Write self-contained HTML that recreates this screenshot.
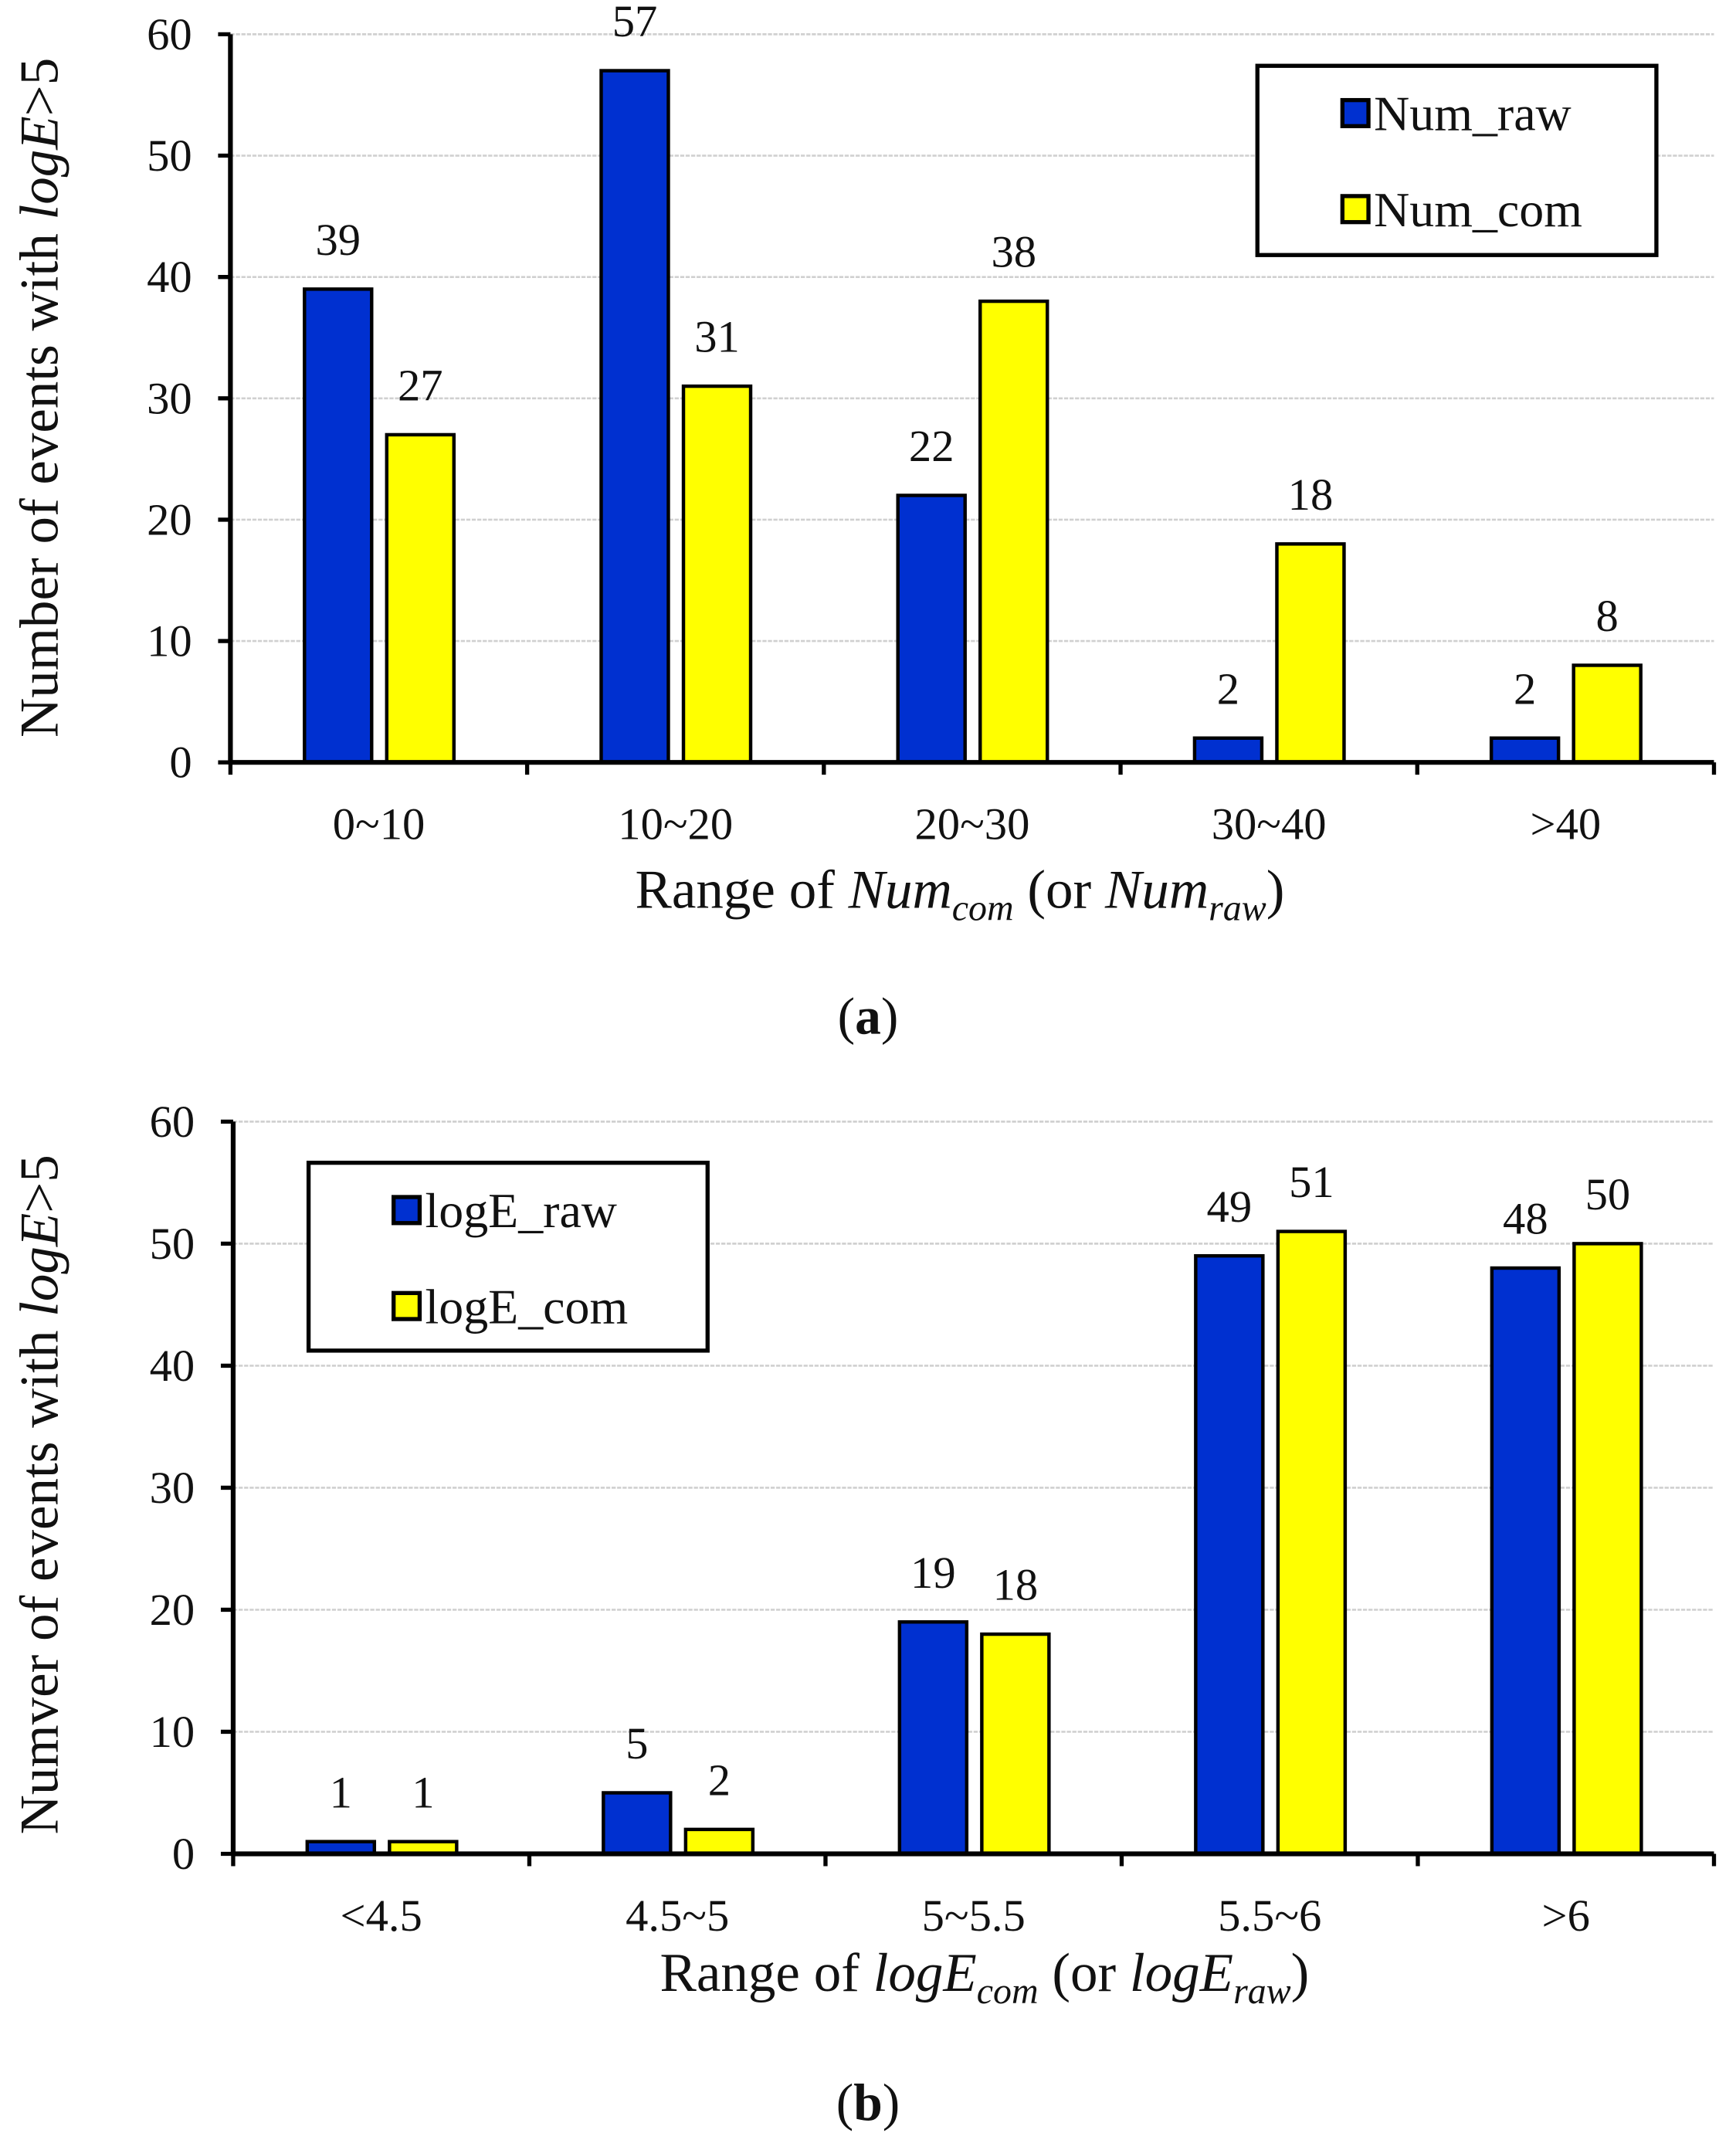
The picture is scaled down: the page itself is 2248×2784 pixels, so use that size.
<!DOCTYPE html>
<html><head><meta charset="utf-8"><style>
html,body{margin:0;padding:0;background:#fff}
svg{display:block}
text{font-family:"Liberation Serif",serif;fill:#111}
</style></head><body>
<svg id="fig" width="2248" height="2784" viewBox="0 0 1266 1568" xmlns="http://www.w3.org/2000/svg">
<rect width="1266" height="1568" fill="#fff"/>
<g id="chartA"></g>
<g id="chartB"></g>
<text x="633" y="754" text-anchor="middle" font-size="38">(<tspan font-weight="bold">a</tspan>)</text>
<text x="633" y="1546" text-anchor="middle" font-size="38">(<tspan font-weight="bold">b</tspan>)</text>
</svg>
<script>
const catsA = ["0~10","10~20","20~30","30~40",">40"];
const rawA = [39,57,22,2,2];
const comA = [27,31,38,18,8];
const catsB = ["<4.5","4.5~5","5~5.5","5.5~6",">6"];
const rawB = [1,5,19,49,48];
const comB = [1,2,18,51,50];
const yTicks = [0,10,20,30,40,50,60];

const NS="http://www.w3.org/2000/svg";
function mk(parent,tag,attrs,txt){
  const e=document.createElementNS(NS,tag);
  for(const k in attrs) e.setAttribute(k,attrs[k]);
  if(txt!==undefined) e.textContent=txt;
  parent.appendChild(e); return e;
}
function drawChart(g, cfg){
  const {x0,x1,y0,y60,cats,raw,com} = cfg;
  const ys = v => y0 - (v/60)*(y0-y60);
  const cw = (x1-x0)/cats.length;
  const xc = i => x0 + i*cw;
  yTicks.forEach(t=>{
    if(t>0){
      const l=mk(g,'line',{x1:x0,x2:x1,y1:ys(t),y2:ys(t),stroke:'#d0d0d0','stroke-width':1.5,'stroke-dasharray':'3 1'});
      
      
    }
    const tk=mk(g,'line',{x1:x0-9,x2:x0,y1:ys(t),y2:ys(t),stroke:'#000','stroke-width':3});
    
    
    const tl=mk(g,'text',{x:x0-28,y:ys(t)+11,'text-anchor':'end','font-size':33},String(t));
    
    
  });
  cats.forEach((c,i)=>{
    const bx=xc(i)+54, yx=xc(i)+114, bw=49;
    const b=mk(g,'rect',{x:bx,y:ys(raw[i]),width:bw,height:ys(0)-ys(raw[i]),fill:'#0030d0',stroke:'#000','stroke-width':2.5});
    
    
    const y=mk(g,'rect',{x:yx,y:ys(com[i]),width:bw,height:ys(0)-ys(com[i]),fill:'#ffff00',stroke:'#000','stroke-width':2.5});
    
    
    const l1=mk(g,'text',{x:bx+bw/2,y:ys(raw[i])-25,'text-anchor':'middle','font-size':33},String(raw[i]));
    
    
    const l2=mk(g,'text',{x:yx+bw/2,y:ys(com[i])-25,'text-anchor':'middle','font-size':33},String(com[i]));
    
    
    const cl=mk(g,'text',{x:xc(i)+cw/2,y:y0+56,'text-anchor':'middle','font-size':33},c);
    
    
  });
  for(let i=0;i<=cats.length;i++){
    const t=mk(g,'line',{x1:xc(i),x2:xc(i),y1:y0,y2:y0+9,stroke:'#000','stroke-width':3});
    
    
  }
  const ya=mk(g,'line',{x1:x0,x2:x0,y1:y60,y2:y0+1.5,stroke:'#000','stroke-width':3.5});
  
  
  const xa=mk(g,'line',{x1:x0,x2:x1,y1:y0,y2:y0,stroke:'#000','stroke-width':3.5});
  
  
}
const gA=document.getElementById('chartA');
const gB=document.getElementById('chartB');
drawChart(gA,{x0:168,x1:1250,y0:556,y60:25,cats:catsA,raw:rawA,com:comA});
drawChart(gB,{x0:170,x1:1250,y0:1352,y60:818,cats:catsB,raw:rawB,com:comB});

function legend(g,x,y,w,h,names){
  const r=mk(g,'rect',{x:x,y:y,width:w,height:h,fill:'#fff',stroke:'#000','stroke-width':3});
  
  
  const cols=['#0030d0','#ffff00'];
  names.forEach((n,i)=>{
    const yy=y+25+i*70;
    const s=mk(g,'rect',{x:x+62,y:yy,width:19,height:19,fill:cols[i],stroke:'#000','stroke-width':3});
    
    
    const t=mk(g,'text',{x:x+85,y:yy+22,'font-size':36},n);
    
    
  });
}
legend(gA,917,48,291,138,['Num_raw','Num_com']);
legend(gB,225,848,291,137,['logE_raw','logE_com']);

function title(g,html,attrs,name){
  const t=mk(g,'text',attrs);
  t.innerHTML=html;
  
  
}
title(gA,'Number of events with <tspan font-style="italic">logE</tspan>&gt;5',{x:0,y:0,'font-size':40,'text-anchor':'middle',transform:'translate(42,290) rotate(-90)'},'y-axis-title');
title(gB,'Numver of events with <tspan font-style="italic">logE</tspan>&gt;5',{x:0,y:0,'font-size':40,'text-anchor':'middle',transform:'translate(42,1090) rotate(-90)'},'y-axis-title');
title(gA,'Range of <tspan font-style="italic">Num</tspan><tspan font-style="italic" font-size="27" dy="9">com</tspan><tspan dy="-9"> (or </tspan><tspan font-style="italic">Num</tspan><tspan font-style="italic" font-size="27" dy="9">raw</tspan><tspan dy="-9">)</tspan>',{x:700,y:662,'font-size':40,'text-anchor':'middle'},'x-axis-title');
title(gB,'Range of <tspan font-style="italic">logE</tspan><tspan font-style="italic" font-size="27" dy="9">com</tspan><tspan dy="-9"> (or </tspan><tspan font-style="italic">logE</tspan><tspan font-style="italic" font-size="27" dy="9">raw</tspan><tspan dy="-9">)</tspan>',{x:718,y:1452,'font-size':40,'text-anchor':'middle'},'x-axis-title');
</script>
</body></html>
